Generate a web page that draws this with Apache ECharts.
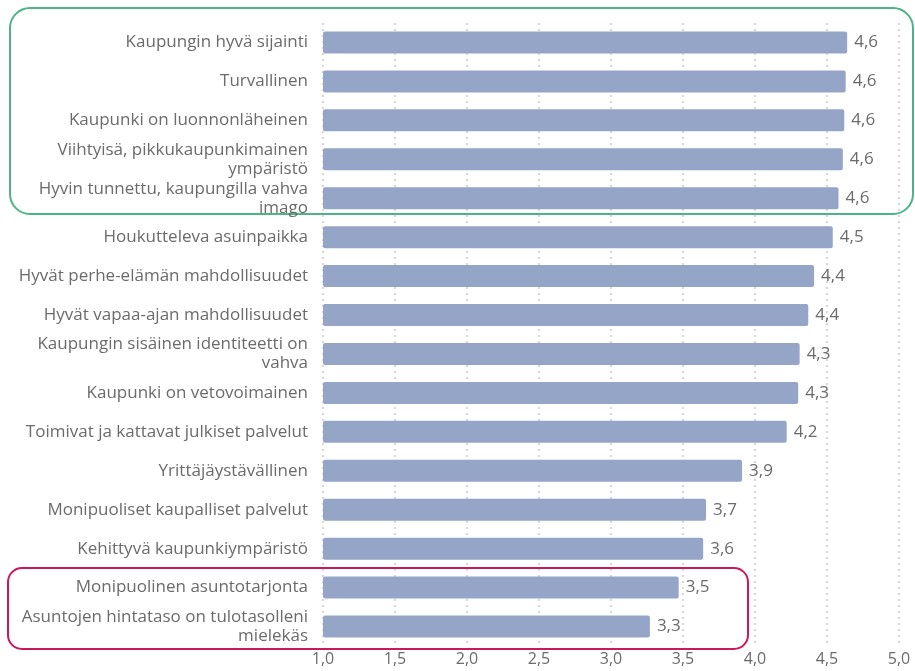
<!DOCTYPE html>
<html>
<head>
<meta charset="utf-8">
<style>
  html, body { margin: 0; padding: 0; background: #fff; }
  #chart { width: 915px; height: 671px; }
</style>
<script src="https://cdn.jsdelivr.net/npm/echarts@6/dist/echarts.min.js"></script>
</head>
<body>
<div id="chart"></div>
<script>
// väittämät ylhäältä alas
var categories = [
  'Kaupungin hyvä sijainti',
  'Turvallinen',
  'Kaupunki on luonnonläheinen',
  'Viihtyisä, pikkukaupunkimainen\nympäristö',
  'Hyvin tunnettu, kaupungilla vahva\nimago',
  'Houkutteleva asuinpaikka',
  'Hyvät perhe-elämän mahdollisuudet',
  'Hyvät vapaa-ajan mahdollisuudet',
  'Kaupungin sisäinen identiteetti on\nvahva',
  'Kaupunki on vetovoimainen',
  'Toimivat ja kattavat julkiset palvelut',
  'Yrittäjäystävällinen',
  'Monipuoliset kaupalliset palvelut',
  'Kehittyvä kaupunkiympäristö',
  'Monipuolinen asuntotarjonta',
  'Asuntojen hintataso on tulotasolleni\nmielekäs'
]
var values = [4.64, 4.63, 4.62, 4.61, 4.58, 4.54, 4.41, 4.37, 4.31, 4.30, 4.22, 3.91, 3.66, 3.64, 3.47, 3.27]
var xTicks = { min: 1, max: 5, step: 0.5 }

var fi = function (v) { return v.toFixed(1).replace('.', ',') }
var textColor = '#6b6b6b'
var font = '"Open Sans", "Noto Sans", sans-serif'

var chart = echarts.init(document.getElementById('chart'))
chart.setOption({
  animation: false,
  grid: { left: 323, right: 16, top: 23, bottom: 25, containLabel: false },
  xAxis: {
    type: 'value',
    min: xTicks.min,
    max: xTicks.max,
    interval: xTicks.step,
    axisLine: { show: false },
    axisTick: { show: false },
    axisLabel: {
      formatter: fi,
      color: textColor,
      fontFamily: font,
      fontSize: 16,
      margin: 5
    },
    splitLine: { show: true, lineStyle: { color: '#d6d6d6', type: [2, 4], width: 2 } }
  },
  yAxis: {
    type: 'category',
    inverse: true,
    data: categories,
    axisLine: { show: false },
    axisTick: { show: false },
    axisLabel: {
      color: textColor,
      fontFamily: font,
      fontSize: 17,
      lineHeight: 19,
      margin: 15,
      align: 'right'
    }
  },
  series: [{
    type: 'bar',
    data: values,
    barWidth: 22,
    itemStyle: { color: '#95a5c7', borderRadius: 2 },
    label: {
      show: true,
      position: 'right',
      distance: 7,
      color: textColor,
      fontFamily: font,
      fontSize: 17,
      formatter: function (p) { return fi(p.value) }
    }
  }],
  graphic: [
    {
      type: 'rect',
      shape: { x: 10, y: 8, width: 903, height: 206, r: 20 },
      style: { fill: 'none', stroke: '#4cb486', lineWidth: 2 }
    },
    {
      type: 'rect',
      shape: { x: 8, y: 568, width: 740, height: 81, r: 14 },
      style: { fill: 'none', stroke: '#c9195c', lineWidth: 2 }
    }
  ]
})
</script>
</body>
</html>
